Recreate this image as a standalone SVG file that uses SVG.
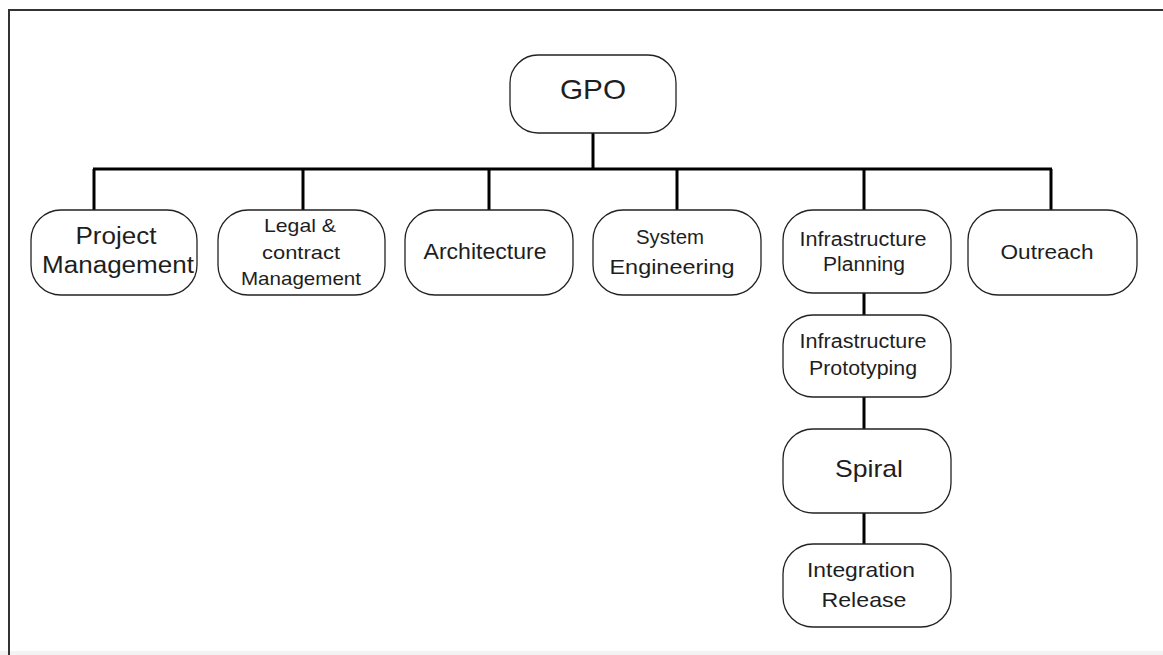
<svg xmlns="http://www.w3.org/2000/svg" width="1163" height="655" viewBox="0 0 1163 655">
<style>
.box{fill:#fff;stroke:#222;stroke-width:1.3}
.t{font-family:"Liberation Sans",Arial,sans-serif;fill:#1e1e1e;text-anchor:middle}
.c{stroke:#000;stroke-width:3;fill:none}
</style>
<rect width="1163" height="655" fill="#fff"/>
<rect x="0" y="651" width="1163" height="4" fill="#f3f3f3"/>
<path d="M9,655 V10 H1163" fill="none" stroke="#333" stroke-width="2"/>
<g id="connectors">
<path class="c" d="M593,133 V169"/>
<path class="c" d="M93,169 H1052"/>
<path class="c" d="M94,169 V210 M303,169 V210 M489,169 V210 M677,169 V210 M864,169 V210 M1051,169 V210"/>
<path class="c" d="M864,293 V315 M864,397 V429 M864,513 V544"/>
</g>
<g id="gpo"><rect class="box" x="510" y="55" width="166" height="78" rx="28"/><text class="t" x="593" y="99" font-size="28" textLength="66" lengthAdjust="spacingAndGlyphs">GPO</text></g>
<g id="project-management"><rect class="box" x="31" y="210" width="166" height="85" rx="30"/><text class="t" x="116" y="244" font-size="23" textLength="81" lengthAdjust="spacingAndGlyphs">Project</text><text class="t" x="118" y="273" font-size="23" textLength="152" lengthAdjust="spacingAndGlyphs">Management</text></g>
<g id="legal"><rect class="box" x="218" y="210" width="167" height="85" rx="30"/><text class="t" x="300" y="232" font-size="19" textLength="72" lengthAdjust="spacingAndGlyphs">Legal &amp;</text><text class="t" x="301" y="259" font-size="19" textLength="78" lengthAdjust="spacingAndGlyphs">contract</text><text class="t" x="301" y="285" font-size="19" textLength="120" lengthAdjust="spacingAndGlyphs">Management</text></g>
<g id="architecture"><rect class="box" x="405" y="210" width="168" height="85" rx="30"/><text class="t" x="485" y="259" font-size="22" textLength="123" lengthAdjust="spacingAndGlyphs">Architecture</text></g>
<g id="system-engineering"><rect class="box" x="593" y="210" width="168" height="85" rx="30"/><text class="t" x="670" y="244" font-size="21" textLength="68" lengthAdjust="spacingAndGlyphs">System</text><text class="t" x="672" y="274" font-size="21" textLength="125" lengthAdjust="spacingAndGlyphs">Engineering</text></g>
<g id="infrastructure-planning"><rect class="box" x="783" y="210" width="168" height="83" rx="30"/><text class="t" x="863" y="246" font-size="20" textLength="127" lengthAdjust="spacingAndGlyphs">Infrastructure</text><text class="t" x="864" y="271" font-size="20" textLength="82" lengthAdjust="spacingAndGlyphs">Planning</text></g>
<g id="outreach"><rect class="box" x="968" y="210" width="169" height="85" rx="30"/><text class="t" x="1047" y="259" font-size="21" textLength="93" lengthAdjust="spacingAndGlyphs">Outreach</text></g>
<g id="infrastructure-prototyping"><rect class="box" x="783" y="315" width="168" height="82" rx="30"/><text class="t" x="863" y="348" font-size="20" textLength="127" lengthAdjust="spacingAndGlyphs">Infrastructure</text><text class="t" x="863" y="375" font-size="20" textLength="108" lengthAdjust="spacingAndGlyphs">Prototyping</text></g>
<g id="spiral"><rect class="box" x="783" y="429" width="168" height="84" rx="30"/><text class="t" x="869" y="477" font-size="24" textLength="68" lengthAdjust="spacingAndGlyphs">Spiral</text></g>
<g id="integration-release"><rect class="box" x="783" y="544" width="168" height="83" rx="30"/><text class="t" x="861" y="577" font-size="21" textLength="108" lengthAdjust="spacingAndGlyphs">Integration</text><text class="t" x="864" y="607" font-size="21" textLength="85" lengthAdjust="spacingAndGlyphs">Release</text></g>
</svg>
